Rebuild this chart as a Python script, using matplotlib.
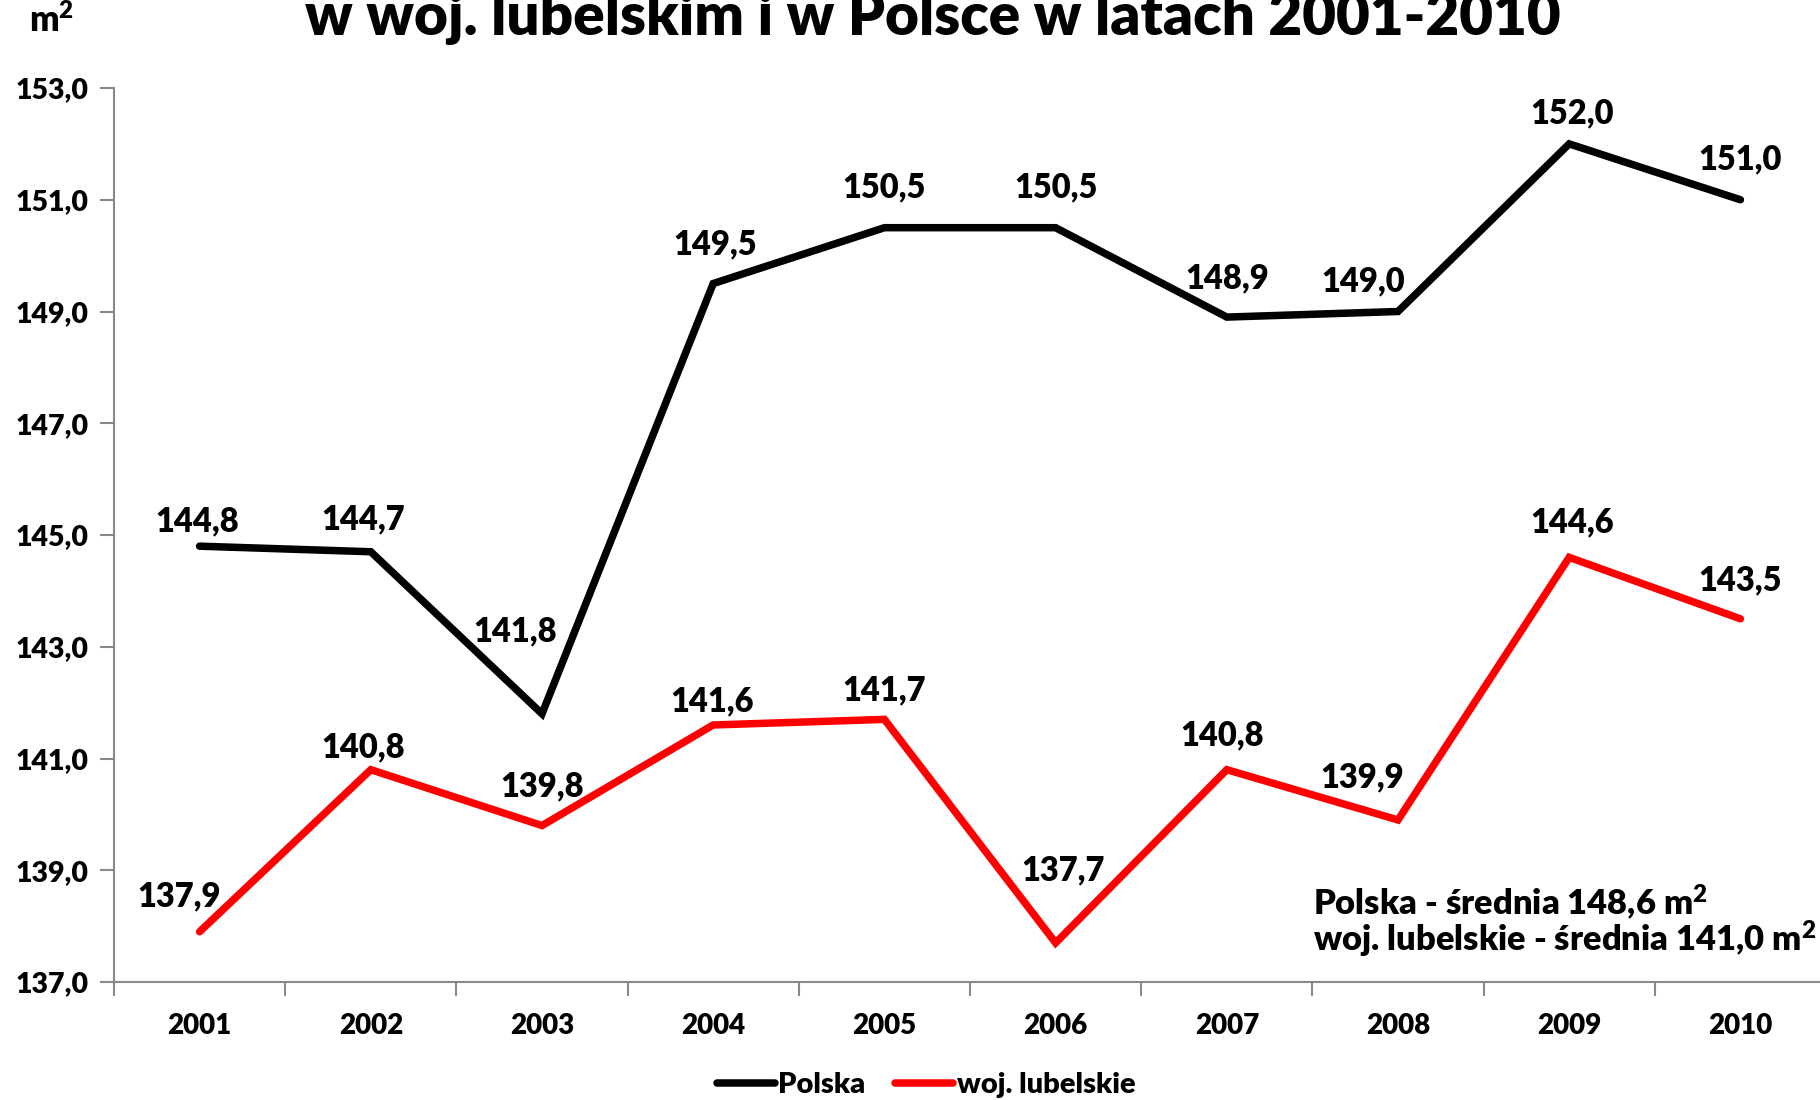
import numpy as np
import matplotlib.pyplot as plt

plt.rcParams['font.family'] = ['Lato', 'DejaVu Sans']
plt.rcParams['font.weight'] = 800
plt.rcParams['mathtext.fontset'] = 'custom'
plt.rcParams['mathtext.rm'] = 'Lato:weight=800'
plt.rcParams['mathtext.it'] = 'Lato:weight=800'
plt.rcParams['mathtext.bf'] = 'Lato:weight=800'

years = ['2001', '2002', '2003', '2004', '2005', '2006', '2007', '2008', '2009', '2010']
polska = [144.8, 144.7, 141.8, 149.5, 150.5, 150.5, 148.9, 149.0, 152.0, 151.0]
lubelskie = [137.9, 140.8, 139.8, 141.6, 141.7, 137.7, 140.8, 139.9, 144.6, 143.5]
y_ticks = [137, 139, 141, 143, 145, 147, 149, 151, 153]

# label offsets (pixels, relative to point)
pol_off = [(-2, -25), (-8, -32), (-27, -82), (2, -39), (0, -40),
           (0, -40), (0, -39), (-35, -30), (3, -31), (0, -40)]
lub_off = [(-21, -35), (-8, -22), (0, -39), (-1, -24), (0, -29),
           (7, -73), (-5, -34), (-36, -43), (3, -35), (0, -38)]

def fmt(v):
    return '{:.1f}'.format(v).replace('.', ',')

fig = plt.figure(figsize=(18.2, 11), dpi=100)
ax = fig.add_axes([114 / 1820, 1 - 982 / 1100, 1712 / 1820, (982 - 88) / 1100])

x = np.arange(len(years))
ax.plot(x, polska, color='black', lw=5.4, solid_capstyle='round', solid_joinstyle='miter', label='Polska')
ax.plot(x, lubelskie, color='#ff0000', lw=5.4, solid_capstyle='round', solid_joinstyle='miter', label='woj. lubelskie')

px = 0.72
for xi, v, (dx, dy) in zip(x, polska, pol_off):
    ax.annotate(fmt(v), (xi, v), xytext=(dx * px, -dy * px), textcoords='offset points',
                ha='center', va='center', fontsize=23.5)
for xi, v, (dx, dy) in zip(x, lubelskie, lub_off):
    ax.annotate(fmt(v), (xi, v), xytext=(dx * px, -dy * px), textcoords='offset points',
                ha='center', va='center', fontsize=23.5)

ax.set_xlim(-0.5, len(years) - 0.5)
ax.set_ylim(137, 153)
ax.set_yticks(y_ticks)
ax.set_yticklabels([fmt(t) for t in y_ticks], fontsize=20.5)
ax.set_xticks(x)
ax.set_xticklabels(years, fontsize=20)
ax.set_xticks(np.arange(-0.5, len(years), 1), minor=True)
ax.tick_params(axis='x', which='major', length=0, pad=22)
ax.tick_params(axis='x', which='minor', length=10, width=1.5, color='#888888')
ax.tick_params(axis='y', length=10, width=1.5, color='#888888', pad=8)
for s in ['top', 'right']:
    ax.spines[s].set_visible(False)
for s in ['left', 'bottom']:
    ax.spines[s].set_color('#888888')
    ax.spines[s].set_linewidth(1.5)

fig.text(1313 / 1820, 1 - 915 / 1100, r'Polska - średnia 148,6 m$^{2}$',
         fontsize=24.8, va='baseline', ha='left')
fig.text(1313 / 1820, 1 - 952 / 1100, r'woj. lubelskie - średnia 141,0 m$^{2}$',
         fontsize=24.8, va='baseline', ha='left')

fig.text(933 / 1820, 1 - 35 / 1100, 'w woj. lubelskim i w Polsce w latach 2001-2010',
         fontsize=42, ha='center', va='baseline')
fig.text(29 / 1820, 1 - 32 / 1100, r'm$^{2}$', fontsize=25, ha='left', va='baseline')

fig.legend(loc='center', bbox_to_anchor=(926 / 1820, 1 - 1085 / 1100), ncol=2, frameon=False,
           handlelength=2.0, handletextpad=0.12, columnspacing=1.0,
           prop={'weight': 800, 'size': 21})

fig.savefig('out.png', dpi=100)
